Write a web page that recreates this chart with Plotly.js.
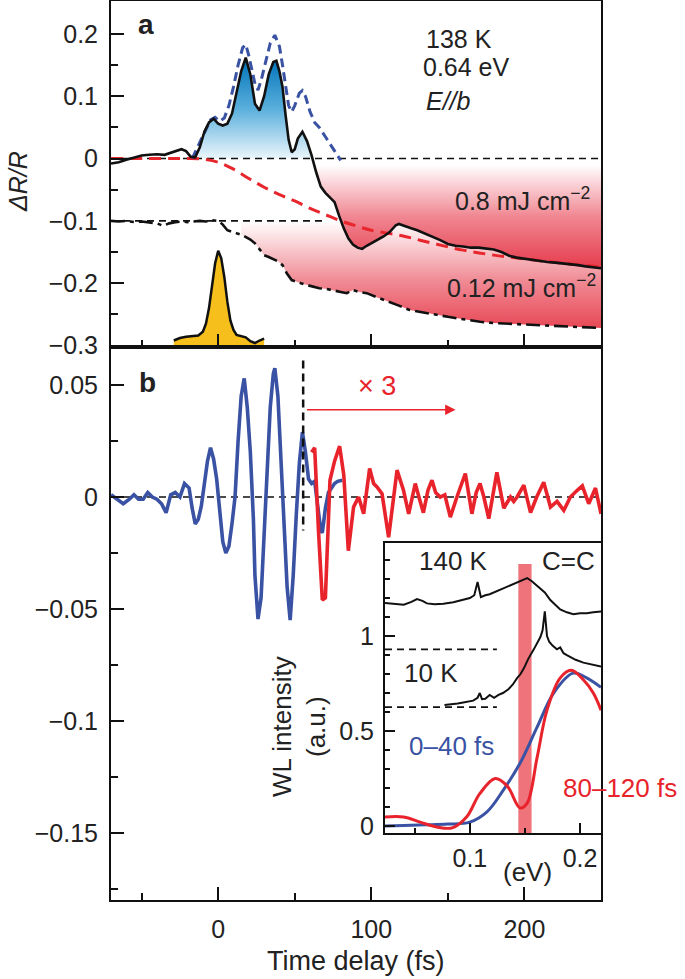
<!DOCTYPE html>
<html><head><meta charset="utf-8">
<script src="https://cdn.plot.ly/plotly-3.0.1.min.js"></script>
<style>html,body{margin:0;padding:0;background:#fff;}#chart{width:685px;height:979px;}</style>
</head><body><div id="chart"></div>
<script>
// ---------- Panel a data (time delay fs, dR/R) ----------
const fs08T = [-70,-65,-60,-55,-50,-45,-40,-35,-30,-27,-24,-21,-18,-15,-12,-9,-6,-3,0,3,6,9,12,15,18,21,24,27,30,33,36,38,40,42,44,46,48,50,52,55,58,61,64,67,70,73,76,79,82,85,88,91,94,97,100,104,108,112,116,118,122,126,130,135,140,145,150,155,160,165,170,175,180,185,190,195,200,205,210,215,220,225,230,235,240,245,250];
const fs08V = [-0.008,-0.006,-0.002,0.002,0.005,0.006,0.007,0.006,0.010,0.012,0.015,0.012,0.003,0.002,0.018,0.043,0.058,0.064,0.056,0.053,0.056,0.072,0.105,0.140,0.162,0.135,0.088,0.077,0.100,0.135,0.155,0.157,0.140,0.115,0.070,0.030,0.010,0.015,0.032,0.043,0.028,0.005,-0.022,-0.045,-0.055,-0.062,-0.070,-0.092,-0.112,-0.128,-0.138,-0.143,-0.145,-0.140,-0.136,-0.131,-0.125,-0.118,-0.107,-0.105,-0.109,-0.112,-0.115,-0.120,-0.126,-0.131,-0.137,-0.140,-0.141,-0.143,-0.143,-0.144,-0.146,-0.150,-0.156,-0.159,-0.161,-0.163,-0.165,-0.166,-0.167,-0.168,-0.170,-0.171,-0.173,-0.175,-0.176];

const fitT = [-70,-40,-20,-10,0,10,20,30,40,50,60,70,80,90,100,120,140,160,180,200,225,250];
const fitV = [0,0,0,-0.001,-0.006,-0.017,-0.032,-0.046,-0.058,-0.068,-0.080,-0.090,-0.100,-0.108,-0.115,-0.124,-0.136,-0.147,-0.155,-0.161,-0.168,-0.174];

const oscT = [-17,-14,-11,-8,-5,-2,1,4,7,10,13,16,18,20,22,24,26,28,31,34,37,40,42,44,46,48,50,53,55,57,60,63,66,70,74,78,80];
const oscV = [0,0.015,0.030,0.045,0.062,0.066,0.060,0.065,0.085,0.115,0.150,0.178,0.183,0.165,0.140,0.120,0.110,0.125,0.155,0.185,0.198,0.180,0.150,0.120,0.085,0.075,0.085,0.105,0.109,0.100,0.075,0.058,0.050,0.035,0.020,0.006,-0.003];

const fs012T = [-70,-65,-60,-55,-50,-45,-40,-36,-32,-28,-24,-20,-16,-12,-8,-4,0,3,6,9,12,15,18,21,24,27,30,33,36,39,42,45,48,51,54,58,62,66,70,75,80,84,88,92,97,103,110,118,125,133,141,150,160,171,180,190,200,210,220,230,240,250];
const fs012V = [-0.100,-0.101,-0.100,-0.102,-0.101,-0.103,-0.104,-0.108,-0.104,-0.102,-0.101,-0.102,-0.101,-0.100,-0.101,-0.099,-0.100,-0.106,-0.115,-0.118,-0.120,-0.122,-0.126,-0.130,-0.136,-0.146,-0.155,-0.158,-0.161,-0.165,-0.171,-0.185,-0.195,-0.197,-0.200,-0.203,-0.206,-0.208,-0.209,-0.211,-0.214,-0.216,-0.211,-0.214,-0.216,-0.222,-0.228,-0.236,-0.243,-0.247,-0.250,-0.254,-0.258,-0.262,-0.264,-0.265,-0.267,-0.268,-0.269,-0.270,-0.271,-0.272];

const pulseT = [-29,-25,-21,-17,-13,-10,-8,-6,-4,-2,0,2,4,6,8,10,12,15,18,21,24,27,30];
const pulseV = [-0.292,-0.288,-0.286,-0.285,-0.284,-0.278,-0.265,-0.240,-0.205,-0.168,-0.148,-0.160,-0.190,-0.230,-0.260,-0.275,-0.283,-0.285,-0.287,-0.293,-0.296,-0.292,-0.289];

// ---------- Panel b data ----------
const bBlueT = [-70,-66,-62,-58,-55,-52,-49,-46,-43,-40,-37,-34,-31,-28,-25,-22,-19,-17,-15,-13,-11,-9,-7,-5,-3,-1,1,3,5,7,9,11,13,15,17,19,21,23,24,26,28,30,32,34,36,37,39,41,43,45,47,49,51,53,55,57,59,61,63,65,67,68,70,72,74,76,78,81];
const bBlueV = [0.001,-0.001,-0.003,-0.001,0.001,-0.001,-0.001,0.002,0.000,-0.001,-0.003,-0.007,0.001,0.002,0.000,0.006,0.004,-0.005,-0.012,-0.010,-0.004,0.006,0.016,0.022,0.017,0.008,-0.006,-0.020,-0.025,-0.022,-0.012,0.000,0.025,0.045,0.053,0.040,0.020,-0.010,-0.035,-0.0545,-0.045,-0.018,0.010,0.040,0.055,0.0575,0.045,0.015,-0.010,-0.040,-0.055,-0.035,-0.008,0.015,0.029,0.020,0.008,0.006,0.007,-0.005,-0.015,-0.016,-0.005,0.002,0.004,0.006,0.007,0.0075];

const bRedT = [61,63,65.5,68,70,73,76,79.3,82,85,88.4,91.7,95,98.9,101.5,103.7,107,111.3,116.8,121,124.4,128.7,131.5,134,137,139.6,142,145,148,151.6,155.9,161.4,165.7,168.5,171,173.5,176.7,182,186.5,190.9,193,195.2,199.6,204,208,212.6,217,221.3,225.7,230,234.5,237.8,242,246.4,250];
const bRedV = [0.020,0.022,-0.015,-0.046,-0.045,0.0075,0.016,0.0227,0.010,-0.024,-0.0045,0.000,-0.0075,0.0127,0.006,0.0045,0.0015,-0.018,0.012,0.003,-0.0075,0.006,-0.001,-0.007,0.003,0.0075,0.002,0.000,0.001,-0.009,0.000,0.0105,-0.0075,0.002,0.006,0.000,-0.0097,0.011,-0.005,0.000,-0.002,0.000,0.0053,-0.007,0.000,0.0066,-0.0045,-0.002,-0.006,0.000,0.003,0.005,-0.003,0.004,-0.0075];
const splitT = 55.5;          // start of x3 region
const splitSpan = [0.061, -0.015];

// ---------- Inset data (photon energy eV, WL intensity a.u.) ----------
const early040E = [0.023,0.04,0.06,0.08,0.10,0.1155,0.1305,0.1455,0.161,0.176,0.1936,0.206,0.219];
const early040V = [0.0,0.003,0.006,0.01,0.02,0.074,0.19,0.33,0.52,0.70,0.805,0.78,0.73];
const late80E = [0.023,0.04,0.055,0.070,0.084,0.097,0.109,0.123,0.134,0.1455,0.152,0.161,0.170,0.182,0.192,0.203,0.212,0.219];
const late80V = [0.047,0.047,0.02,-0.005,-0.01,0.047,0.17,0.25,0.21,0.095,0.12,0.36,0.61,0.78,0.82,0.77,0.70,0.61];
const k140E = [0.023,0.03,0.04,0.047,0.052,0.057,0.061,0.068,0.076,0.085,0.094,0.100,0.104,0.107,0.110,0.114,0.118,0.124,0.130,0.136,0.143,0.148,0.152,0.156,0.160,0.164,0.168,0.173,0.178,0.182,0.188,0.194,0.200,0.206,0.212,0.219];
const k140V = [1.174,1.170,1.165,1.180,1.195,1.185,1.172,1.168,1.170,1.178,1.190,1.200,1.215,1.285,1.205,1.215,1.220,1.235,1.250,1.265,1.280,1.295,1.305,1.290,1.270,1.250,1.230,1.190,1.160,1.140,1.125,1.115,1.120,1.120,1.125,1.130];
const k10E = [0.077,0.083,0.089,0.094,0.099,0.103,0.107,0.109,0.111,0.114,0.118,0.122,0.126,0.130,0.135,0.139,0.143,0.146,0.149,0.153,0.158,0.161,0.164,0.166,0.168,0.170,0.172,0.175,0.179,0.182,0.185,0.188,0.191,0.196,0.203,0.210,0.219];
const k10V = [0.637,0.640,0.645,0.650,0.655,0.660,0.675,0.700,0.668,0.670,0.690,0.675,0.690,0.700,0.720,0.745,0.780,0.800,0.830,0.880,0.930,0.960,0.995,1.030,1.130,1.000,0.970,0.950,0.930,0.940,0.910,0.900,0.890,0.875,0.860,0.850,0.840];
const base140 = 0.93, base10 = 0.626, baseEnd = [0.023, 0.1245];
const ccBand = [0.144, 0.156], ccBandV = [-0.04, 1.38];

// ---------- tick labels ----------
const aTicks = [0.2,0.1,0,-0.1,-0.2,-0.3];
const aTickText = ['0.2','0.1','0','\u22120.1','\u22120.2','\u22120.3'];
const bTicks = [0.05,0,-0.05,-0.1,-0.15];
const bTickText = ['0.05','0','\u22120.05','\u22120.1','\u22120.15'];
const tTicks = [0,100,200];
const tTickText = ['0','100','200'];
const insXTicks = [0.1,0.2], insXText = ['0.1','0.2'];
const insYTicks = [0,0.5,1], insYText = ['0','0.5','1'];

// ---------- styling ----------
const FONT = 'Liberation Sans, Arial, Helvetica, sans-serif';
const BLUE = '#3a52a3', RED = '#e8232b', BLACK = '#111';
const W=685, H=979, L=111, R=84, T=1, B=79;
const PW = W-L-R, PH = H-T-B;
const px = p => (p-L)/PW;
const py = p => (H-B-p)/PH;
const splitY = py(347);

const clipPos = (t,v,lo,hi) => { const xs=[],ys=[]; t.forEach((x,i)=>{ if(x>=lo && x<=hi){ xs.push(x); ys.push(Math.max(v[i],0)); } }); return [xs,ys]; };
const clipNeg = (t,v,lo,ref) => { const xs=[],ys=[]; t.forEach((x,i)=>{ if(x>=lo){ xs.push(x); ys.push(Math.min(v[i],ref)); } }); return [xs,ys]; };

const [bfX,bfY] = clipPos(fs08T, fs08V, -18, 62);
const [rfX,rfY] = clipNeg(fs08T, fs08V, 60, 0);
const [r2X,r2Y] = clipNeg(fs012T, fs012V, 15, -0.1);
const pulseBase = -0.3024;

const traces = [
  {x:r2X, y:r2X.map(()=>-0.1), xaxis:'x', yaxis:'y', mode:'lines', line:{width:0}, hoverinfo:'skip', showlegend:false},
  {x:r2X, y:r2Y, xaxis:'x', yaxis:'y', mode:'lines', line:{width:0}, fill:'tonexty',
   fillgradient:{type:'vertical', start:-0.272, stop:-0.1, colorscale:[[0,'rgb(232,72,86)'],[0.45,'rgb(240,140,150)'],[1,'rgb(255,255,255)']]}, showlegend:false},
  {x:rfX, y:rfY, xaxis:'x', yaxis:'y', mode:'lines', line:{width:0}, fill:'tozeroy',
   fillgradient:{type:'vertical', start:-0.176, stop:-0.01, colorscale:[[0,'rgb(230,60,76)'],[0.5,'rgb(240,135,146)'],[1,'rgb(255,255,255)']]}, showlegend:false},
  {x:bfX, y:bfY, xaxis:'x', yaxis:'y', mode:'lines', line:{width:0}, fill:'tozeroy',
   fillgradient:{type:'vertical', start:0, stop:0.16, colorscale:[[0,'rgb(235,246,252)'],[0.5,'rgb(90,175,220)'],[1,'rgb(0,115,185)']]}, showlegend:false},
  {x:pulseT, y:pulseT.map(()=>pulseBase), xaxis:'x', yaxis:'y', mode:'lines', line:{width:0}, showlegend:false},
  {x:pulseT, y:pulseV, xaxis:'x', yaxis:'y', mode:'lines', line:{color:BLACK,width:2.5}, fill:'tonexty', fillcolor:'#f6bf1c', showlegend:false},
  {x:[-70,250], y:[0,0], xaxis:'x', yaxis:'y', mode:'lines', line:{color:BLACK,width:1.6,dash:'7px,5px'}, showlegend:false},
  {x:[-70,71], y:[-0.1,-0.1], xaxis:'x', yaxis:'y', mode:'lines', line:{color:BLACK,width:1.6,dash:'7px,5px'}, showlegend:false},
  {x:fitT, y:fitV, xaxis:'x', yaxis:'y', mode:'lines', line:{color:'#e8262d',width:3,dash:'12px,7px',shape:'spline'}, showlegend:false},
  {x:oscT, y:oscV, xaxis:'x', yaxis:'y', mode:'lines', line:{color:BLUE,width:3,dash:'9px,5px'}, showlegend:false},
  {x:fs012T, y:fs012V, xaxis:'x', yaxis:'y', mode:'lines', line:{color:BLACK,width:2.6,dash:'14px,5px,4px,5px'}, showlegend:false},
  {x:fs08T, y:fs08V, xaxis:'x', yaxis:'y', mode:'lines', line:{color:BLACK,width:2.6}, showlegend:false},
  {x:[-70,250], y:[0,0], xaxis:'x2', yaxis:'y2', mode:'lines', line:{color:BLACK,width:1.6,dash:'7px,5px'}, showlegend:false},
  {x:bBlueT, y:bBlueV, xaxis:'x2', yaxis:'y2', mode:'lines', line:{color:BLUE,width:3.6}, showlegend:false},
  {x:bRedT, y:bRedV, xaxis:'x2', yaxis:'y2', mode:'lines', line:{color:RED,width:3.6}, showlegend:false},
  {x:[splitT,splitT], y:splitSpan, xaxis:'x2', yaxis:'y2', mode:'lines', line:{color:BLACK,width:2.5,dash:'8px,5px'}, showlegend:false},
  {x:[ccBand[0],ccBand[1],ccBand[1],ccBand[0],ccBand[0]], y:[ccBandV[0],ccBandV[0],ccBandV[1],ccBandV[1],ccBandV[0]], xaxis:'x3', yaxis:'y3', mode:'lines', line:{width:0}, fill:'toself', fillcolor:'rgba(236,100,108,0.9)', showlegend:false},
  {x:baseEnd, y:[base140,base140], xaxis:'x3', yaxis:'y3', mode:'lines', line:{color:BLACK,width:1.6,dash:'7px,5px'}, showlegend:false},
  {x:baseEnd, y:[base10,base10], xaxis:'x3', yaxis:'y3', mode:'lines', line:{color:BLACK,width:1.6,dash:'7px,5px'}, showlegend:false},
  {x:k140E, y:k140V, xaxis:'x3', yaxis:'y3', mode:'lines', line:{color:BLACK,width:2}, showlegend:false},
  {x:k10E, y:k10V, xaxis:'x3', yaxis:'y3', mode:'lines', line:{color:BLACK,width:2}, showlegend:false},
  {x:early040E, y:early040V, xaxis:'x3', yaxis:'y3', mode:'lines', line:{color:BLUE,width:3,shape:'spline'}, showlegend:false},
  {x:late80E, y:late80V, xaxis:'x3', yaxis:'y3', mode:'lines', line:{color:RED,width:3,shape:'spline'}, showlegend:false}
];

const axBase = {showline:true, linecolor:BLACK, linewidth:2, mirror:true, ticks:'inside', tickcolor:BLACK, tickwidth:2,
  zeroline:false, showgrid:false, tickfont:{family:FONT,size:25,color:'#222'}, fixedrange:true};

const layout = {
  width:W, height:H, margin:{l:L,r:R,t:T,b:B}, paper_bgcolor:'#fff', plot_bgcolor:'#fff',
  font:{family:FONT, color:'#222'}, showlegend:false,
  xaxis: Object.assign({}, axBase, {domain:[0,1], anchor:'y', range:[-70,250], tickmode:'array', tickvals:tTicks, ticktext:tTickText, showticklabels:false, ticklen:13,
         minor:{tickmode:'array', tickvals:[-50,50,150,250], ticks:'inside', ticklen:7, tickwidth:2, tickcolor:BLACK}}),
  yaxis: Object.assign({}, axBase, {domain:[splitY,1], anchor:'x', range:[-0.3024,0.2528], tickmode:'array', tickvals:aTicks, ticktext:aTickText, ticklen:13, ticklabelstandoff:6,
         minor:{tickmode:'array', tickvals:[-0.25,-0.15,-0.05,0.05,0.15], ticks:'inside', ticklen:7, tickwidth:2, tickcolor:BLACK}}),
  xaxis2: Object.assign({}, axBase, {domain:[0,1], anchor:'y2', range:[-70,250], tickmode:'array', tickvals:tTicks, ticktext:tTickText, ticklen:13, ticklabelstandoff:6,
         minor:{tickmode:'array', tickvals:[-50,50,150,250], ticks:'inside', ticklen:7, tickwidth:2, tickcolor:BLACK}}),
  yaxis2: Object.assign({}, axBase, {domain:[0,splitY], anchor:'x2', range:[-0.18,0.067], tickmode:'array', tickvals:bTicks, ticktext:bTickText, ticklen:13, ticklabelstandoff:6,
         minor:{tickmode:'array', tickvals:[-0.175,-0.125,-0.075,-0.025,0.025], ticks:'inside', ticklen:7, tickwidth:2, tickcolor:BLACK}}),
  xaxis3: Object.assign({}, axBase, {domain:[px(385),1], anchor:'y3', range:[0.023,0.219], tickmode:'array', tickvals:insXTicks, ticktext:insXText, ticklen:10, ticklabelstandoff:2,
         minor:{tickmode:'array', tickvals:[0.05,0.15], ticks:'inside', ticklen:5, tickwidth:1.5, tickcolor:BLACK}}),
  yaxis3: Object.assign({}, axBase, {domain:[py(833),py(543)], anchor:'x3', range:[-0.037,1.49], tickmode:'array', tickvals:insYTicks, ticktext:insYText, ticklen:10, ticklabelstandoff:4,
         minor:{tickmode:'array', tickvals:[0.1,0.2,0.3,0.4,0.6,0.7,0.8,0.9,1.1,1.2,1.3,1.4], ticks:'inside', ticklen:5, tickwidth:1.5, tickcolor:BLACK}}),
  annotations: []
};

function txt(text, x, y, opt){
  return Object.assign({text:text, xref:'paper', yref:'paper', x:px(x), y:py(y), showarrow:false,
    xanchor:'center', yanchor:'middle', font:{family:FONT, size:26, color:'#222'}}, opt||{});
}
const F = (s,c) => ({family:FONT, size:s, color:c||'#222'});
layout.annotations.push(
  txt('<b>a</b>', 146, 24, {font:F(28)}),
  txt('<b>b</b>', 147, 382, {font:F(28)}),
  txt('138 K', 424, 39, {xanchor:'left', font:F(25)}),
  txt('0.64 eV', 421, 67, {xanchor:'left', font:F(25)}),
  txt('<i>E//b</i>', 424, 101, {xanchor:'left', font:F(25)}),
  txt('0.8 mJ cm<sup>\u22122</sup>', 592, 199, {xanchor:'right', font:F(25)}),
  txt('0.12 mJ cm<sup>\u22122</sup>', 598, 286, {xanchor:'right', font:F(25)}),
  txt('<i>\u0394R/R</i>', 18, 182, {textangle:-90, font:F(25)}),
  txt('\u00d7 3', 377, 386, {font:F(27, RED)}),
  txt('Time delay (fs)', 356, 961, {font:F(27)}),
  txt('140 K', 453, 561),
  txt('C=C', 568, 561),
  txt('10 K', 431, 673),
  txt('0\u201340 fs', 451, 746, {font:F(26, BLUE)}),
  txt('80\u2013120 fs', 561, 788, {xanchor:'left', font:F(26, RED)}),
  txt('WL intensity', 282, 727, {textangle:-90}),
  txt('(a.u.)', 316, 727, {textangle:-90}),
  txt('(eV)', 527, 872),
  {xref:'x2', yref:'y2', axref:'x2', ayref:'y2', x:155, y:0.039, ax:57, ay:0.039, text:'', showarrow:true,
   arrowhead:2, arrowsize:1.3, arrowwidth:1.6, arrowcolor:RED, standoff:0, startstandoff:0}
);

Plotly.newPlot('chart', traces, layout, {staticPlot:true, displayModeBar:false});
</script>
</body></html>
